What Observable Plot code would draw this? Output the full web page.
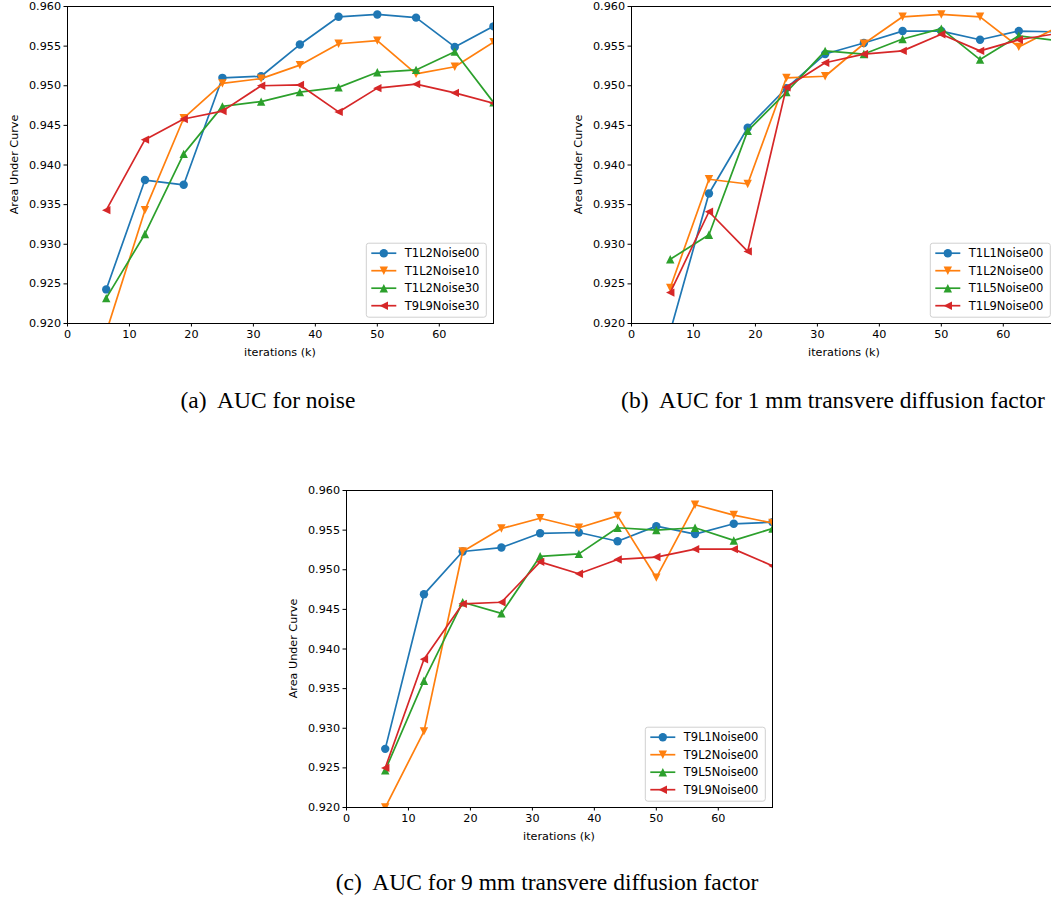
<!DOCTYPE html>
<html><head><meta charset="utf-8">
<script src="https://cdn.jsdelivr.net/npm/d3@7"></script>
<script src="https://cdn.jsdelivr.net/npm/@observablehq/plot@0.6"></script>
<style>
html,body{margin:0;padding:0;background:#fff;}
#page{position:relative;width:1051px;height:903px;overflow:hidden;background:#fff;}
.panel{position:absolute;}
.panel svg{max-width:none !important;}
.cap{position:absolute;font-family:"Liberation Serif","Times New Roman",serif;font-size:23.5px;line-height:23.5px;color:#000;white-space:pre;transform:translateX(-50%);}
</style></head><body><div id="page"></div>
<script>
// ---- data ----
const iterations = [6.25, 12.5, 18.75, 25, 31.25, 37.5, 43.75, 50, 56.25, 62.5, 68.75];
const xTicks = [0, 10, 20, 30, 40, 50, 60];
const yTicks = [0.920, 0.925, 0.930, 0.935, 0.940, 0.945, 0.950, 0.955, 0.960];

// (a) AUC for noise
const namesA = ["T1L2Noise00", "T1L2Noise10", "T1L2Noise30", "T9L9Noise30"];
const a_T1L2Noise00 = [0.9243, 0.9381, 0.9375, 0.9510, 0.9512, 0.9552, 0.9587, 0.9590, 0.9586, 0.9549, 0.9575];
const a_T1L2Noise10 = [0.9189, 0.9343, 0.9459, 0.9503, 0.9509, 0.9526, 0.9553, 0.9557, 0.9515, 0.9524, 0.9555];
const a_T1L2Noise30 = [0.9232, 0.9313, 0.9414, 0.9474, 0.9480, 0.9492, 0.9498, 0.9517, 0.9520, 0.9543, 0.9479];
const a_T9L9Noise30 = [0.9343, 0.9432, 0.9458, 0.9468, 0.9500, 0.9501, 0.9467, 0.9497, 0.9502, 0.9491, 0.9478];

// (b) AUC for 1 mm transverse diffusion factor
const namesB = ["T1L1Noise00", "T1L2Noise00", "T1L5Noise00", "T1L9Noise00"];
const b_T1L1Noise00 = [0.9190, 0.9364, 0.9447, 0.9497, 0.9540, 0.9554, 0.9569, 0.9569, 0.9558, 0.9569, 0.9568];
const b_T1L2Noise00 = [0.9245, 0.9382, 0.9376, 0.9510, 0.9512, 0.9553, 0.9587, 0.9590, 0.9587, 0.9549, 0.9574];
const b_T1L5Noise00 = [0.9281, 0.9312, 0.9443, 0.9492, 0.9544, 0.9540, 0.9559, 0.9572, 0.9533, 0.9563, 0.9557];
const b_T1L9Noise00 = [0.9239, 0.9341, 0.9291, 0.9498, 0.9529, 0.9540, 0.9544, 0.9565, 0.9544, 0.9558, 0.9566];

// (c) AUC for 9 mm transverse diffusion factor
const namesC = ["T9L1Noise00", "T9L2Noise00", "T9L5Noise00", "T9L9Noise00"];
const c_T9L1Noise00 = [0.9274, 0.9469, 0.9523, 0.9528, 0.9546, 0.9547, 0.9536, 0.9555, 0.9545, 0.9558, 0.9560];
const c_T9L2Noise00 = [0.9200, 0.9296, 0.9523, 0.9552, 0.9565, 0.9553, 0.9568, 0.9490, 0.9582, 0.9569, 0.9559];
const c_T9L5Noise00 = [0.9247, 0.9360, 0.9459, 0.9445, 0.9517, 0.9520, 0.9553, 0.9550, 0.9553, 0.9537, 0.9552];
const c_T9L9Noise00 = [0.9250, 0.9387, 0.9457, 0.9459, 0.9510, 0.9495, 0.9513, 0.9516, 0.9526, 0.9526, 0.9505];

const captions = ["(a)  AUC for noise", "(b)  AUC for 1 mm transvere diffusion factor", "(c)  AUC for 9 mm transvere diffusion factor"];
const xLabel = "iterations (k)";
const yLabel = "Area Under Curve";

// ---- style ----
const colors = ["#1f77b4", "#ff7f0e", "#2ca02c", "#d62728"];
const tri = (angle) => ({
  draw(ctx, size) {
    const r = Math.sqrt(size / Math.PI);
    const pts = [[0, -r], [-r, r], [r, r]].map(([x, y]) => {
      const c = Math.cos(angle), s = Math.sin(angle);
      return [x * c - y * s, x * s + y * c];
    });
    ctx.moveTo(pts[0][0], pts[0][1]);
    ctx.lineTo(pts[1][0], pts[1][1]);
    ctx.lineTo(pts[2][0], pts[2][1]);
    ctx.closePath();
  }
});
const symbols = ["circle", tri(Math.PI), tri(0), tri(-Math.PI / 2)];
const R = 4.2;

const W = 530, H = 365, mL = 67, mT = 6, mR = 37, mB = 42;
const fw = W - mL - mR, fh = H - mT - mB;

function panel(names, series, left, top) {
  const marks = [];
  names.forEach((n, i) => {
    const d = iterations.map((x, j) => ({x, y: series[i][j]}));
    marks.push(Plot.line(d, {x: "x", y: "y", stroke: colors[i], strokeWidth: 1.7, strokeLinejoin: "round", clip: true}));
    marks.push(Plot.dot(d, {x: "x", y: "y", fill: colors[i], stroke: "none", symbol: symbols[i], r: R, clip: true}));
  });
  marks.push(Plot.frame({stroke: "#000", strokeWidth: 1}));
  const svg = Plot.plot({
    width: W, height: H, marginLeft: mL, marginTop: mT, marginRight: mR, marginBottom: mB,
    style: {fontFamily: "DejaVu Sans", fontSize: "11.2px", color: "#000", background: "transparent", overflow: "visible", maxWidth: "none"},
    x: {domain: [0, 68.75], ticks: xTicks, tickFormat: d => String(d), tickSize: 3.5, tickPadding: 3, label: null},
    y: {domain: [0.92, 0.96], ticks: yTicks, tickFormat: d3.format(".3f"), tickSize: 3.5, tickPadding: 3, label: null},
    marks
  });
  const s = d3.select(svg);
  s.append("text").attr("x", mL + fw / 2).attr("y", mT + fh + 33).attr("text-anchor", "middle")
    .attr("font-family", "DejaVu Sans").attr("font-size", "11.2px").attr("fill", "#000").text(xLabel);
  s.append("text").attr("transform", `translate(${mL - 49},${mT + fh / 2}) rotate(-90)`).attr("text-anchor", "middle")
    .attr("font-family", "DejaVu Sans").attr("font-size", "11.2px").attr("fill", "#000").text(yLabel);
  // legend
  const g = s.append("g").attr("font-family", "DejaVu Sans").attr("font-size", "11.5px").attr("text-anchor", "start");
  const bw = 120, bh = 74;
  const bx = mL + fw - 6.7 - bw, by = mT + fh - 5.8 - bh;
  g.append("rect").attr("x", bx).attr("y", by).attr("width", bw).attr("height", bh).attr("rx", 2.5)
    .attr("fill", "#fff").attr("fill-opacity", 0.8).attr("stroke", "#d0d0d0").attr("stroke-width", 1);
  names.forEach((n, i) => {
    const yy = by + 10 + i * 17.5;
    g.append("line").attr("x1", bx + 5).attr("x2", bx + 30).attr("y1", yy).attr("y2", yy)
      .attr("stroke", colors[i]).attr("stroke-width", 1.7);
    const sym = typeof symbols[i] === "string" ? d3.symbolCircle : symbols[i];
    g.append("path").attr("d", d3.symbol(sym, Math.PI * R * R)()).attr("transform", `translate(${bx + 17.5},${yy})`)
      .attr("fill", colors[i]);
    g.append("text").attr("x", bx + 38.5).attr("y", yy + 4).attr("fill", "#000").attr("text-anchor", "start").text(n);
  });
  const div = document.createElement("div");
  div.className = "panel";
  div.style.left = left + "px";
  div.style.top = top + "px";
  div.style.width = W + "px";
  div.appendChild(svg);
  document.getElementById("page").appendChild(div);
}

panel(namesA, [a_T1L2Noise00, a_T1L2Noise10, a_T1L2Noise30, a_T9L9Noise30], 0.3, 0);
panel(namesB, [b_T1L1Noise00, b_T1L2Noise00, b_T1L5Noise00, b_T1L9Noise00], 564, 0);
panel(namesC, [c_T9L1Noise00, c_T9L2Noise00, c_T9L5Noise00, c_T9L9Noise00], 279, 484);

function cap(text, cx, top) {
  const d = document.createElement("div");
  d.className = "cap";
  d.style.left = cx + "px";
  d.style.top = top + "px";
  d.textContent = text;
  document.getElementById("page").appendChild(d);
}
cap(captions[0], 268, 389);
cap(captions[1], 833, 389);
cap(captions[2], 547, 871);
</script>
</body></html>
